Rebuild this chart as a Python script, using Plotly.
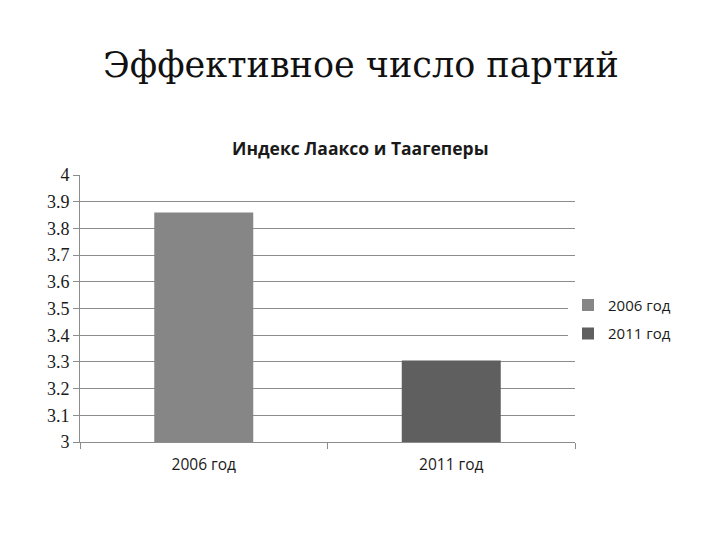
import plotly.graph_objects as go

# --- Data ---
categories = ["2006 год", "2011 год"]
values = [3.86, 3.305]
colors = ["#868686", "#5f5f5f"]
y_ticks = [3.0, 3.1, 3.2, 3.3, 3.4, 3.5, 3.6, 3.7, 3.8, 3.9, 4.0]
y_labels = ["3", "3.1", "3.2", "3.3", "3.4", "3.5", "3.6", "3.7", "3.8", "3.9", "4"]

title_text = "Эффективное число партий"
subtitle_text = "Индекс Лааксо и Таагеперы"

# the page puts the figure 8px in from the top/left, so margins are trimmed by that
fig = go.Figure()

# one trace per year so the legend gets two entries
for cat, val, col in zip(categories, values, colors):
    fig.add_trace(go.Bar(
        x=[cat], y=[val],
        name=cat,
        legendgroup=cat,
        marker=dict(color=col, line=dict(width=0)),
        width=0.4,
    ))

fig.update_layout(
    width=720, height=540,
    barmode="overlay",
    margin=dict(l=72, r=153, t=167, b=106),
    paper_bgcolor="white",
    plot_bgcolor="white",
    showlegend=True,
    title=dict(
        text=title_text,
        x=(361 - 8) / 720, xanchor="center",
        y=1 - 57 / 540, yanchor="middle",
        font=dict(family="DejaVu Serif", size=35, color="#111111"),
    ),
    annotations=[dict(
        text="<b>" + subtitle_text + "</b>",
        xref="paper", yref="paper",
        x=(360 - 80) / 495, y=1 + (175 - 148) / 267,
        xanchor="center", yanchor="middle",
        showarrow=False,
        font=dict(family="Open Sans", size=17.5, color="#1a1a1a"),
    )],
    legend=dict(
        x=1.0 + (568 - 575) / 495, xanchor="left",
        y=0.46, yanchor="middle",
        font=dict(family="Open Sans", size=15, color="#1a1a1a"),
        itemwidth=30,
        tracegroupgap=6,
    ),
    xaxis=dict(
        showline=True, linecolor="#8c8c8c", linewidth=1,
        ticks="outside", tickson="boundaries", ticklen=6, tickcolor="#8c8c8c",
        ticklabelstandoff=8,
        showgrid=False,
        tickfont=dict(family="Open Sans", size=15.5, color="#1a1a1a"),
    ),
    yaxis=dict(
        range=[3, 4],
        tickmode="array",
        tickvals=y_ticks,
        ticktext=y_labels,
        showline=True, linecolor="#8c8c8c", linewidth=1,
        ticks="outside", ticklen=6, tickcolor="#8c8c8c",
        showgrid=True, gridcolor="#8c8c8c", gridwidth=1,
        zeroline=False,
        tickfont=dict(family="Liberation Serif", size=18, color="#1a1a1a"),
    ),
)

fig.write_html("out.html")
